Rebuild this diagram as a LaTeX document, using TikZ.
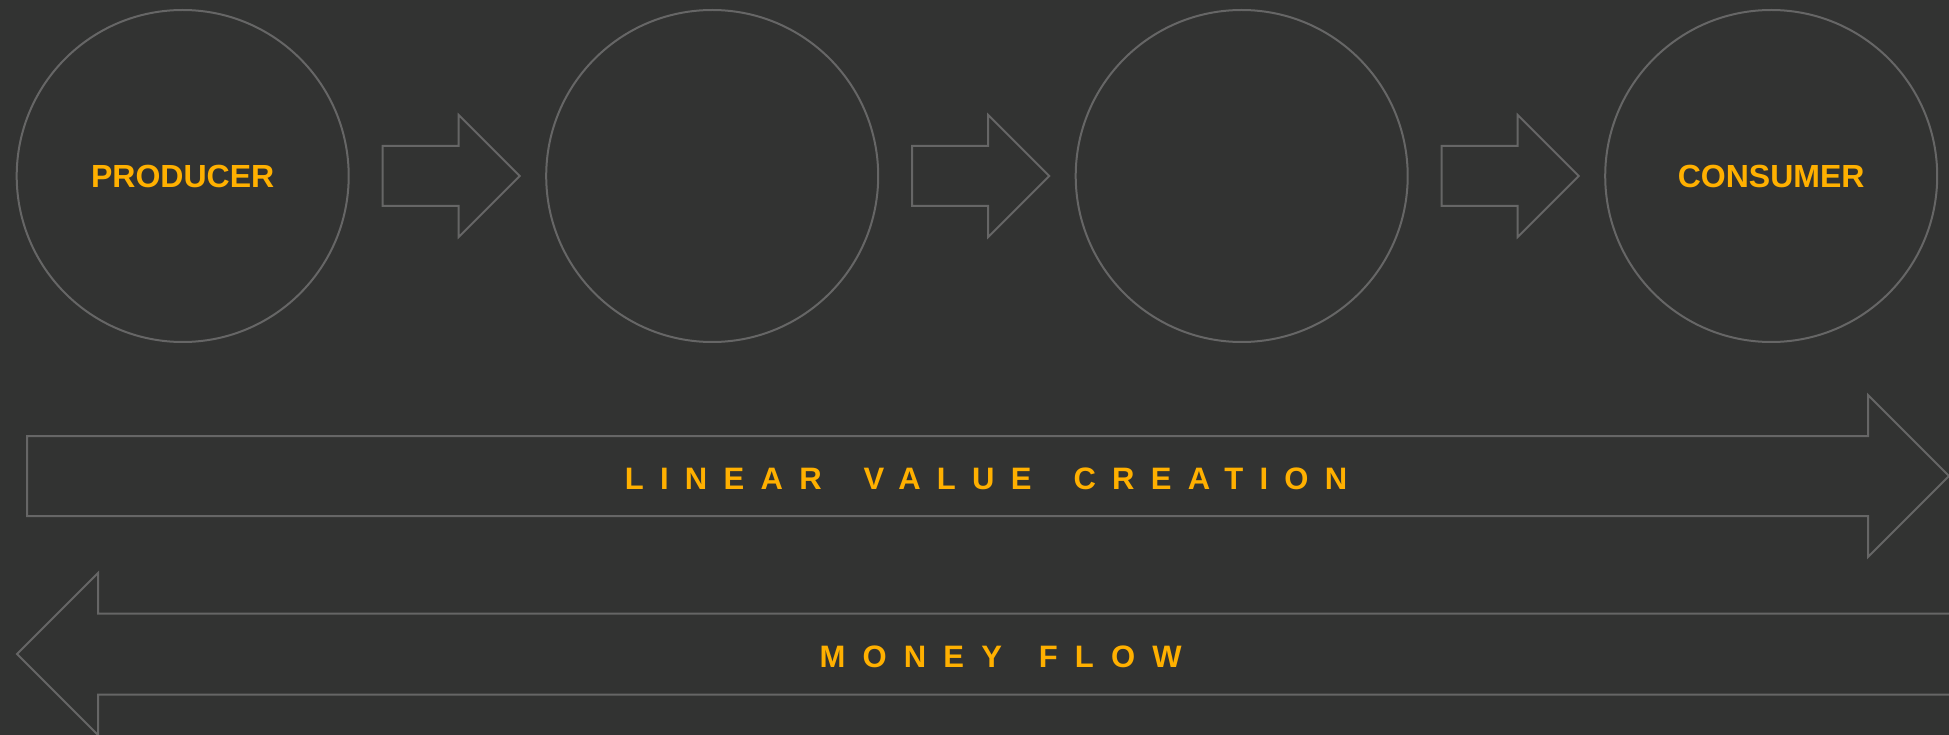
\documentclass[tikz,border=0pt]{standalone}
\usepackage{fontspec}
\setmainfont{Liberation Sans}
\newfontfamily\valuefont[LetterSpace=52.6]{Liberation Sans}
\newfontfamily\moneyfont[LetterSpace=55.5]{Liberation Sans}
\usetikzlibrary{positioning}
\definecolor{bgcol}{HTML}{323332}
\definecolor{linecol}{HTML}{666666}
\definecolor{labelcol}{HTML}{FFB000}
\begin{document}
\begin{tikzpicture}[x=1pt,y=-1pt,node distance=195.5pt,line width=2pt,
	stage/.style = {circle,draw=linecol,minimum size=332pt,inner sep=0pt,
		text=labelcol,font=\fontsize{32}{36}\selectfont\bfseries},
	flow/.style = {draw=linecol,line join=miter},
	flowlabel/.style = {text=labelcol,inner sep=0pt,anchor=base west}]
	
	\useasboundingbox[fill=bgcol] (0,0) rectangle (1949,735);
	\clip (0,0) rectangle (1949,735);
	
	\node[stage] at (182.7,176) (producer) {PRODUCER};
	\node[stage] [right = of producer] (stagetwo) {};
	\node[stage] [right = of stagetwo] (stagethree) {};
	\node[stage] [right = of stagethree] (consumer) {CONSUMER};
	
	% small arrows between the stages
	\foreach \s in {producer,stagetwo,stagethree}
	\draw[flow] ([shift={(200,-30)}]\s.center) -- ++(76,0) -- ++(0,-31)
		-- ++(61,61) -- ++(-61,61) -- ++(0,-31) -- ++(-76,0) -- cycle;
	
	% linear value creation
	\draw[flow] (27,436) -- (1868,436) -- (1868,395) -- (1949,476)
		-- (1868,557) -- (1868,516) -- (27,516) -- cycle;
	\node[flowlabel,font=\fontsize{31}{36}\valuefont\bfseries] at (623.8,489) (valuelabel)
		{LINEAR\hspace{17pt} VALUE\hspace{17pt} CREATION};
	
	% money flow
	\draw[flow] (1960,613.5) -- (98,613.5) -- (98,573) -- (17,654)
		-- (98,735) -- (98,694.5) -- (1960,694.5);
	\node[flowlabel,font=\fontsize{31}{36}\moneyfont\bfseries] at (818.5,667.3) (moneylabel)
		{MONEY\hspace{11pt} FLOW};
	
\end{tikzpicture}
\end{document}
